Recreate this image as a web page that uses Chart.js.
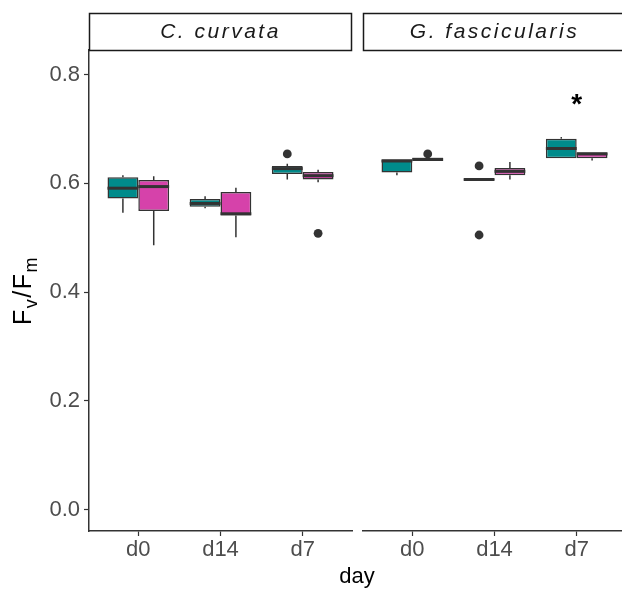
<!DOCTYPE html>
<html>
<head>
<meta charset="utf-8">
<script src="https://cdn.jsdelivr.net/npm/chart.js@4.4.1/dist/chart.umd.min.js"></script>
<style>
  html, body { margin: 0; padding: 0; background: #fff; overflow: hidden; }
  #wrap { position: relative; width: 640px; height: 590px; }
  #wrap canvas { position: absolute; left: 0; top: 0; }
</style>
</head>
<body>
<div id="wrap">
  <canvas id="panelLeft" width="626" height="590"></canvas>
  <canvas id="panelRight" width="626" height="590"></canvas>
</div>
<script>
const days = ['d0', 'd14', 'd7'];
const species = ['C. curvata', 'G. fascicularis'];
const yTicks = [0, 0.2, 0.4, 0.6, 0.8];

// per day: [lower whisker, Q1, median, Q3, upper whisker]
const curvataTeal = [
  [0.546, 0.572, 0.591, 0.611, 0.615],
  [0.554, 0.557, 0.563, 0.571, 0.576],
  [0.607, 0.617, 0.627, 0.632, 0.636]
];
const curvataPink = [
  [0.486, 0.549, 0.594, 0.606, 0.613],
  [0.501, 0.541, 0.544, 0.584, 0.592],
  [0.602, 0.607, 0.614, 0.621, 0.625]
];
const curvataTealOut = [[], [], [0.654]];
const curvataPinkOut = [[], [], [0.508]];

const fascTeal = [
  [0.615, 0.620, 0.641, 0.644, 0.644],
  [0.607, 0.606, 0.607, 0.608, 0.607],
  [0.646, 0.646, 0.664, 0.682, 0.685]
];
const fascPink = [
  [0.641, 0.641, 0.644, 0.647, 0.647],
  [0.607, 0.615, 0.622, 0.628, 0.639],
  [0.642, 0.646, 0.654, 0.657, 0.657]
];
const fascTealOut = [[], [0.632, 0.505], []];
const fascPinkOut = [[0.654], [], []];

const fascStars = ['', '', '*'];
const starY = 0.754;

const TEAL = '#008b8b';
const PINK = '#d642aa';
const EDGE = '#333333';
const FONT = "'Liberation Sans', Arial, sans-serif";
const DODGE = 0.75;

const boxPlugin = {
  id: 'boxParts',
  beforeDatasetsDraw(chart) {
    const y = chart.scales.y, ctx = chart.ctx;
    ctx.save();
    ctx.strokeStyle = EDGE;
    ctx.lineWidth = 1.5;
    chart.data.datasets.forEach((ds, di) => {
      if (!ds.stats) return;
      chart.getDatasetMeta(di).data.forEach((bar, i) => {
        const s = ds.stats[i];
        ctx.beginPath();
        ctx.moveTo(bar.x, y.getPixelForValue(s[0]));
        ctx.lineTo(bar.x, y.getPixelForValue(s[1]));
        ctx.moveTo(bar.x, y.getPixelForValue(s[3]));
        ctx.lineTo(bar.x, y.getPixelForValue(s[4]));
        ctx.stroke();
      });
    });
    ctx.restore();
  },
  afterDatasetsDraw(chart) {
    const y = chart.scales.y, ctx = chart.ctx;
    ctx.save();
    ctx.strokeStyle = EDGE;
    ctx.lineWidth = 3;
    chart.data.datasets.forEach((ds, di) => {
      if (!ds.stats) return;
      chart.getDatasetMeta(di).data.forEach((bar, i) => {
        const py = y.getPixelForValue(ds.stats[i][2]);
        ctx.beginPath();
        ctx.moveTo(bar.x - bar.width / 2, py);
        ctx.lineTo(bar.x + bar.width / 2, py);
        ctx.stroke();
      });
    });
    ctx.restore();
  }
};

const decorPlugin = {
  id: 'decor',
  afterDraw(chart) {
    const o = chart.options.plugins.decor;
    const a = chart.chartArea, ctx = chart.ctx;
    ctx.save();
    // strip header
    ctx.fillStyle = '#fff';
    ctx.strokeStyle = '#1a1a1a';
    ctx.lineWidth = 1.5;
    ctx.fillRect(a.left, 13, a.right - a.left, a.top - 13);
    ctx.strokeRect(a.left + 0.5, 13.5, a.right - a.left - 1, a.top - 13);
    ctx.fillStyle = '#1a1a1a';
    ctx.font = 'italic 21px ' + FONT;
    ctx.letterSpacing = '2.5px';
    ctx.textAlign = 'center';
    ctx.textBaseline = 'middle';
    ctx.fillText(o.title, (a.left + a.right) / 2, (13 + a.top) / 2 + 1);
    ctx.letterSpacing = '0px';

    // significance marks
    const x = chart.scales.x, y = chart.scales.y;
    ctx.fillStyle = '#000';
    ctx.font = 'bold 28px ' + FONT;
    ctx.textBaseline = 'alphabetic';
    o.stars.forEach((s, i) => {
      if (s) ctx.fillText(s, x.getPixelForValue(i + 1), y.getPixelForValue(starY) + 13);
    });

    if (o.showTitles) {
      // x axis title, centred under both panels
      ctx.fillStyle = '#000';
      ctx.font = '22px ' + FONT;
      ctx.textBaseline = 'middle';
      ctx.fillText('day', 357, 577);

      // y axis title F_v/F_m
      ctx.translate(24, (a.top + a.bottom) / 2);
      ctx.rotate(-Math.PI / 2);
      ctx.letterSpacing = '1.5px';
      const parts = [['F', 25, 0], ['v', 18, 6], ['/F', 25, 0], ['m', 18, 6]];
      let total = 0;
      parts.forEach(p => { ctx.font = p[1] + 'px ' + FONT; total += ctx.measureText(p[0]).width; });
      let cx = -total / 2;
      ctx.textAlign = 'left';
      ctx.textBaseline = 'alphabetic';
      parts.forEach(p => {
        ctx.font = p[1] + 'px ' + FONT;
        ctx.fillText(p[0], cx, 7 + p[2]);
        cx += ctx.measureText(p[0]).width;
      });
    }
    ctx.restore();
  }
};

function makePanel(id, title, tealStats, pinkStats, tealOut, pinkOut, stars, showY, padLeft, padRight) {
  const groups = [
    { stats: tealStats, out: tealOut, color: TEAL },
    { stats: pinkStats, out: pinkOut, color: PINK }
  ];
  const datasets = groups.map(g => ({
    type: 'bar',
    stats: g.stats,
    data: g.stats.map((s, i) => ({ x: i + 1, y: [s[1], s[3]] })),
    backgroundColor: g.color,
    borderColor: EDGE,
    borderWidth: 1.5,
    borderSkipped: false,
    categoryPercentage: DODGE,
    barPercentage: 1
  }));
  groups.forEach((g, gi) => {
    datasets.push({
      type: 'scatter',
      data: g.out.flatMap((vals, i) => vals.map(v => ({ x: i + 1 + (gi - 0.5) * DODGE / 2, y: v }))),
      pointRadius: 4.4,
      pointBackgroundColor: EDGE,
      pointBorderWidth: 0
    });
  });

  return new Chart(document.getElementById(id), {
    type: 'bar',
    data: { datasets },
    plugins: [boxPlugin, decorPlugin],
    options: {
      responsive: false,
      animation: false,
      devicePixelRatio: 1,
      layout: { autoPadding: false, padding: { left: padLeft, right: padRight, top: 50, bottom: 0 } },
      plugins: {
        legend: { display: false },
        tooltip: { enabled: false },
        decor: { title, stars, showTitles: showY }
      },
      scales: {
        x: {
          type: 'linear',
          min: 0.4,
          max: 3.6,
          offset: false,
          afterBuildTicks: s => { s.ticks = days.map((d, i) => ({ value: i + 1 })); },
          afterFit: s => { s.height = 59; },
          ticks: {
            callback: v => days[v - 1],
            color: '#4d4d4d',
            font: { family: FONT, size: 22 },
            padding: 1,
            maxRotation: 0
          },
          grid: { display: true, drawOnChartArea: false, offset: false, tickLength: 5, color: EDGE, tickWidth: 1.2 },
          border: { display: true, color: EDGE, width: 1.5 }
        },
        y: {
          display: showY,
          min: -0.039,
          max: 0.845,
          afterBuildTicks: s => { s.ticks = yTicks.map(v => ({ value: v })); },
          afterFit: s => { s.width = showY ? 89 : 0; },
          ticks: {
            callback: v => v.toFixed(1),
            color: '#4d4d4d',
            font: { family: FONT, size: 22 },
            padding: 4
          },
          grid: { display: true, drawOnChartArea: false, tickLength: 5, color: EDGE, tickWidth: 1.2 },
          border: { display: true, color: EDGE, width: 1.5 }
        }
      }
    }
  });
}

makePanel('panelLeft', species[0], curvataTeal, curvataPink, curvataTealOut, curvataPinkOut,
  ['', '', ''], true, 0, 626 - 352);
makePanel('panelRight', species[1], fascTeal, fascPink, fascTealOut, fascPinkOut,
  fascStars, false, 363, 0);
</script>
</body>
</html>
